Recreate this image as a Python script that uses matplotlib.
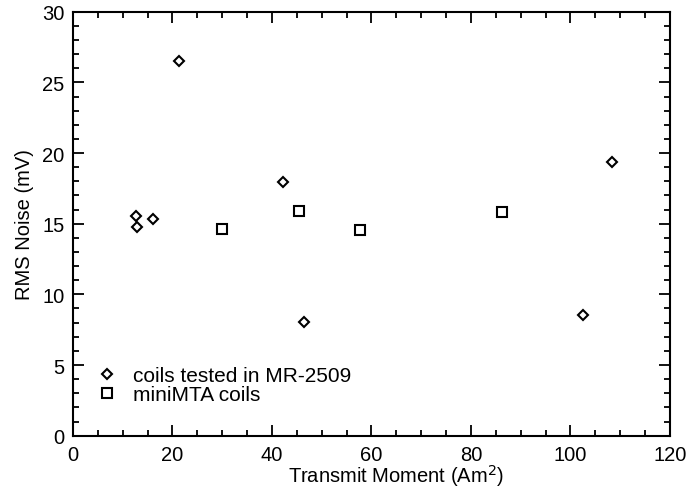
import matplotlib
matplotlib.use("Agg")
import matplotlib.pyplot as plt
from matplotlib.ticker import MultipleLocator

plt.rcParams['font.family'] = ['Liberation Sans', 'DejaVu Sans']

mr_x = [21.4, 12.7, 12.9, 16.1, 42.3, 46.4, 102.6, 108.3]
mr_y = [26.5, 15.55, 14.8, 15.35, 17.95, 8.05, 8.55, 19.4]
mini_x = [30.0, 45.5, 57.6, 86.3]
mini_y = [14.6, 15.9, 14.55, 15.8]

fig = plt.figure(figsize=(6.93, 4.89), dpi=100)
ax = fig.add_axes([0.1053, 0.107, 0.8615, 0.867])

ax.plot(mr_x, mr_y, linestyle='none', marker='D', ms=5.2, mfc='white', mec='black', mew=1.5,
        label='coils tested in MR-2509')
ax.plot(mini_x, mini_y, linestyle='none', marker='s', ms=7, mfc='white', mec='black', mew=1.5,
        label='miniMTA coils')

ax.set_xlim(0, 120)
ax.set_ylim(0, 30)
ax.xaxis.set_major_locator(MultipleLocator(20))
ax.xaxis.set_minor_locator(MultipleLocator(5))
ax.yaxis.set_major_locator(MultipleLocator(5))
ax.yaxis.set_minor_locator(MultipleLocator(1))
ax.tick_params(which='both', direction='in', top=True, right=True, width=1.3,
               labelsize=14.5, colors='black')
ax.tick_params(which='major', length=8)
ax.tick_params(axis='x', which='major', pad=6.5)
ax.tick_params(axis='y', which='major', pad=6)
ax.tick_params(which='minor', length=4)
for s in ax.spines.values():
    s.set_linewidth(1.5)

xl = ax.set_xlabel('Transmit Moment (Am$^2$)', fontsize=14.5)
ax.xaxis.set_label_coords(0.541, -0.062)
xl.set_verticalalignment('top')
ax.set_ylabel('RMS Noise (mV)', fontsize=14.5, labelpad=6)

ax.legend(loc='lower left', frameon=False, fontsize=15, handletextpad=0.7,
          bbox_to_anchor=(0.037, 0.074), borderaxespad=0, borderpad=0,
          labelspacing=0.0, handlelength=1.1)

fig.savefig('out.png', dpi=100)
